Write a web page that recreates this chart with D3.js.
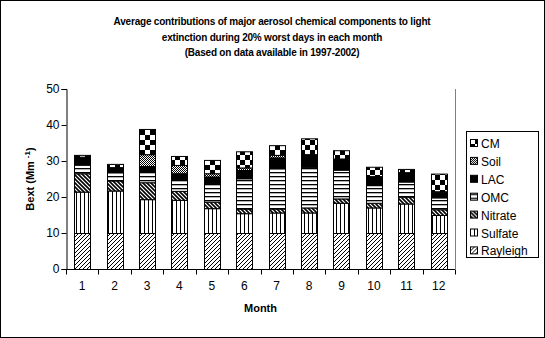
<!DOCTYPE html>
<html><head><meta charset="utf-8">
<script src="https://cdn.jsdelivr.net/npm/d3@7"></script>
<style>
body{margin:0;background:#fff;}
text{font-family:"Liberation Sans",Arial,sans-serif;fill:#000;}
</style></head>
<body>
<svg id="c" width="545" height="338"></svg>
<script>
const months = ["1","2","3","4","5","6","7","8","9","10","11","12"];
const seriesNames = ["Rayleigh","Sulfate","Nitrate","OMC","LAC","Soil","CM"];
const rayleigh = [10,10,10,10,10,10,10,10,10,10,10,10];
const sulfate  = [11.5,11.8,9.4,9.2,6.9,5.5,5.7,5.7,8.4,7.1,8.2,5.0];
const nitrate  = [5.1,2.8,4.7,2.5,1.8,1.3,1.1,1.4,1.2,1.3,1.9,1.6];
const omc      = [2.4,2.3,3.1,3.2,5.1,8.4,11.2,11.3,8.0,4.9,4.2,3.3];
const lac      = [2.0,1.3,1.4,1.7,1.9,2.3,3.0,3.4,3.0,2.4,2.5,1.6];
const soil     = [0.2,0.1,3.3,2.3,0.9,0.7,0.7,0.1,0.1,0.1,0.1,0.1];
const cm       = [0.5,0.9,7.0,2.5,3.7,4.5,2.7,4.4,2.3,2.6,0.9,4.9];
const yTicks = [0,10,20,30,40,50];
const titleLines = ["Average contributions of major aerosol chemical components to light",
  "extinction during 20% worst days in each month","(Based on data available in 1997-2002)"];

const table = months.map((m,i)=>({month:m,Rayleigh:rayleigh[i],Sulfate:sulfate[i],Nitrate:nitrate[i],
  OMC:omc[i],LAC:lac[i],Soil:soil[i],CM:cm[i]}));

const svg = d3.select("#c");
const L=66,R=455,T=89,B=269;
const x = d3.scaleBand().domain(months).range([L,R]).paddingInner(0.5).paddingOuter(0.25);
const y = d3.scaleLinear().domain([0,50]).range([B,T]);

// patterns
const defs = svg.append("defs");
function pat(id,w,h,draw){
  const p = defs.append("pattern").attr("id",id).attr("patternUnits","userSpaceOnUse").attr("width",w).attr("height",h);
  p.append("rect").attr("width",w).attr("height",h).attr("fill","#fff");
  draw(p);
}
pat("pRay",4,4,p=>p.append("path").attr("d","M-1,1 L1,-1 M0,4 L4,0 M3,5 L5,3").attr("stroke","#000").attr("stroke-width",1));
pat("pSul",4,4,p=>p.append("rect").attr("x",0).attr("y",0).attr("width",1).attr("height",4).attr("fill","#000"));
pat("pNit",4,4,p=>p.append("path").attr("d","M-1,-1 L5,5 M-1,3 L1,5 M3,-1 L5,1").attr("stroke","#000").attr("stroke-width",1.6));
pat("pOMC",4,4,p=>p.append("rect").attr("x",0).attr("y",0).attr("width",4).attr("height",1.3).attr("fill","#000"));
pat("pLAC",4,4,p=>p.append("rect").attr("width",4).attr("height",4).attr("fill","#000"));
pat("pSoil",2,2,p=>{p.append("rect").attr("x",0).attr("y",0).attr("width",1).attr("height",1).attr("fill","#000");
  p.append("rect").attr("x",1).attr("y",1).attr("width",1).attr("height",1).attr("fill","#000");});
pat("pCM",10,10,p=>{p.append("rect").attr("x",0).attr("y",0).attr("width",5).attr("height",5).attr("fill","#000");
  p.append("rect").attr("x",5).attr("y",5).attr("width",5).attr("height",5).attr("fill","#000");});
const fillOf = {Rayleigh:"url(#pRay)",Sulfate:"url(#pSul)",Nitrate:"url(#pNit)",OMC:"url(#pOMC)",LAC:"url(#pLAC)",Soil:"url(#pSoil)",CM:"url(#pCM)"};

// outer border
svg.append("rect").attr("x",0.5).attr("y",0.5).attr("width",544).attr("height",337).attr("fill","#fff").attr("stroke","#000");

// title
svg.append("g").selectAll("text").data(titleLines).join("text")
  .attr("x",272).attr("y",(d,i)=>25+i*15.5).attr("text-anchor","middle")
  .attr("font-size","10px").attr("letter-spacing","-0.2px").attr("font-weight","bold").text(d=>d);

// plot right border
svg.append("line").attr("x1",R+0.5).attr("x2",R+0.5).attr("y1",T).attr("y2",B).attr("stroke","#808080");

// bars
const stacked = d3.stack().keys(seriesNames)(table);
svg.append("g").selectAll("g").data(stacked).join("g")
  .attr("fill",d=>fillOf[d.key])
  .selectAll("rect").data(d=>d).join("rect")
  .attr("x",d=>Math.round(x(d.data.month))+0.5)
  .attr("width",Math.round(x.bandwidth()))
  .attr("y",d=>y(d[1])+0.5)
  .attr("height",d=>Math.max(0,y(d[0])-y(d[1])))
  .attr("stroke","#000").attr("stroke-width",1);

// y axis
const ya = svg.append("g").attr("transform",`translate(${L+0.5},0)`)
  .call(d3.axisLeft(y).tickValues(yTicks).tickSize(5).tickFormat(d3.format("d")));
ya.select(".domain").attr("stroke","#000");
ya.selectAll("text").attr("font-size","12px").attr("font-family","'Liberation Sans',Arial,sans-serif").attr("x",-7);

// x axis
const xa = svg.append("g").attr("transform",`translate(0,${B+0.5})`)
  .call(d3.axisBottom(x).tickSize(0).tickPadding(12));
xa.select(".domain").attr("d",`M${L},0H${R}`).attr("stroke","#000");
xa.selectAll("text").attr("font-size","12px").attr("font-family","'Liberation Sans',Arial,sans-serif");
const step = x.step();
xa.append("g").selectAll("line").data(d3.range(months.length+1)).join("line")
  .attr("x1",i=>Math.round(L+i*step)+0.5).attr("x2",i=>Math.round(L+i*step)+0.5)
  .attr("y1",0).attr("y2",5).attr("stroke","#000");

// axis titles
svg.append("text").attr("x",(L+R)/2).attr("y",312).attr("text-anchor","middle")
  .attr("font-size","11px").attr("font-weight","bold").text("Month");
const yt = svg.append("text").attr("transform",`translate(34,${(T+B)/2}) rotate(-90)`).attr("text-anchor","middle")
  .attr("font-size","11px").attr("font-weight","bold");
yt.append("tspan").text("Bext (Mm ");
yt.append("tspan").attr("dy",-4).attr("font-size","8px").text("-1");
yt.append("tspan").attr("dy",4).text(")");

// legend
const legendOrder = seriesNames.slice().reverse();
const lg = svg.append("g");
lg.append("rect").attr("x",466.5).attr("y",131.5).attr("width",72).attr("height",126).attr("fill","#fff").attr("stroke","#000");
const li = lg.selectAll("g.it").data(legendOrder).join("g").attr("class","it")
  .attr("transform",(d,i)=>`translate(470,${144+i*17.9})`);
li.append("rect").attr("x",0.5).attr("y",-4.5).attr("width",7).attr("height",7).attr("fill",d=>fillOf[d]).attr("stroke","#000");
li.append("text").attr("x",11).attr("y",4).attr("font-size","12px").text(d=>d);
</script>
</body></html>
